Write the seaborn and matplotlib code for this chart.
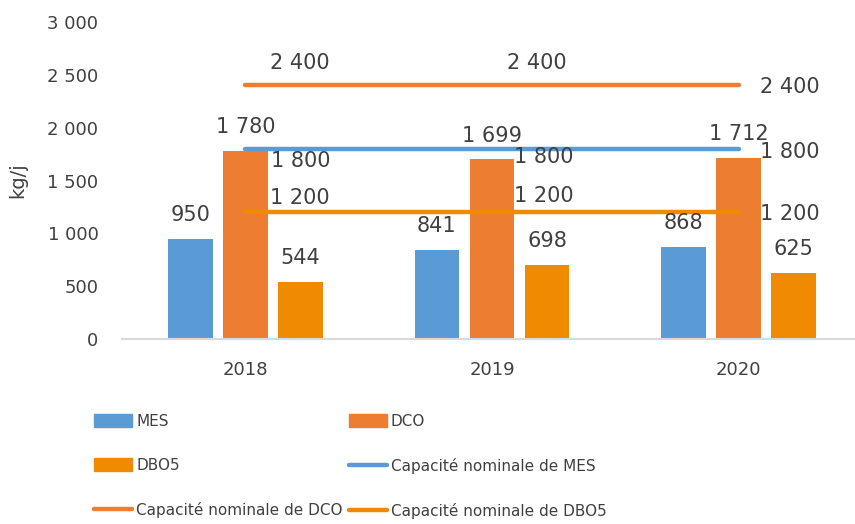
import numpy as np
import pandas as pd
import matplotlib
matplotlib.use("Agg")
import matplotlib.pyplot as plt
import seaborn as sns
from matplotlib.patches import Patch
from matplotlib.lines import Line2D

years = ["2018", "2019", "2020"]
mes = [950, 841, 868]
dco = [1780, 1699, 1712]
dbo5 = [544, 698, 625]
cap_mes = [1800, 1800, 1800]
cap_dco = [2400, 2400, 2400]
cap_dbo5 = [1200, 1200, 1200]

blue = "#5B9BD5"
orange = "#ED7D31"
amber = "#F08A00"
txt = "#404040"

def fmt(v):
    return f"{v:,}".replace(",", " ")

sns.set_style("white")
plt.rcParams["font.family"] = ["DejaVu Sans"]

df = pd.DataFrame({
    "year": years * 3,
    "val": mes + dco + dbo5,
    "serie": ["MES"] * 3 + ["DCO"] * 3 + ["DBO5"] * 3,
})

fig = plt.figure(figsize=(8.55, 5.24), dpi=100)
ax = fig.add_axes([122 / 855, 185 / 524, 740 / 855, 317 / 524])

sns.barplot(data=df, x="year", y="val", hue="serie",
            palette=[blue, orange, amber], width=0.67, gap=0.19,
            saturation=1, legend=False, linewidth=0, ax=ax)

for cont, vals in zip(ax.containers, [mes, dco, dbo5]):
    ax.bar_label(cont, labels=[fmt(v) for v in vals], padding=10,
                 fontsize=15, color=txt)

xs = np.arange(len(years))
caps = [(cap_mes, blue), (cap_dco, orange), (cap_dbo5, amber)]
for vals, c in caps:
    sns.lineplot(x=xs, y=vals, color=c, linewidth=3.2, ax=ax,
                 solid_capstyle="round")

# label offsets (points) for capacity lines
offs = {
    "dco": [(39, 16), (32, 16), (37, -1)],
    "mes": [(40, -9), (37, -6), (37, -2)],
    "dbo5": [(39, 10), (37, 12), (37, -1)],
}
for key, vals in [("dco", cap_dco), ("mes", cap_mes), ("dbo5", cap_dbo5)]:
    for i, v in enumerate(vals):
        ax.annotate(fmt(v), (xs[i], v), xytext=offs[key][i],
                    textcoords="offset points", ha="center", va="center",
                    fontsize=15, color=txt)

ax.set_xlim(-0.5, 2.5)
ax.set_ylim(0, 3000)
ax.set_yticks(range(0, 3001, 500))
ax.set_yticklabels([fmt(v) for v in range(0, 3001, 500)])
ax.set_xlabel("")
ax.set_ylabel("kg/j", fontsize=14, color=txt, labelpad=14)
ax.tick_params(axis="y", length=0, pad=17, labelsize=13, labelcolor=txt)
ax.tick_params(axis="x", length=0, pad=16, labelsize=13, labelcolor=txt)
for s in ["top", "right", "left"]:
    ax.spines[s].set_visible(False)
ax.spines["bottom"].set_color("#D9D9D9")
ax.spines["bottom"].set_linewidth(1.5)
ax.grid(False)

h_mes = Patch(color=blue)
h_dco = Patch(color=orange)
h_dbo = Patch(color=amber)
l_mes = Line2D([], [], color=blue, lw=3.2, solid_capstyle="round")
l_dco = Line2D([], [], color=orange, lw=3.2, solid_capstyle="round")
l_dbo = Line2D([], [], color=amber, lw=3.2, solid_capstyle="round")
handles = [h_mes, h_dbo, l_dco, h_dco, l_mes, l_dbo]
labels = ["MES", "DBO5", "Capacité nominale de DCO",
          "DCO", "Capacité nominale de MES", "Capacité nominale de DBO5"]
fig.legend(handles, labels, ncol=2, loc="upper left",
           bbox_to_anchor=(94 / 855, 1 - 414 / 524), frameon=False,
           fontsize=11, labelcolor=txt, handlelength=2.5, handleheight=0.9,
           handletextpad=0.25, columnspacing=0.4, labelspacing=1.9,
           borderpad=0, borderaxespad=0)

fig.savefig("out.png", dpi=100)
